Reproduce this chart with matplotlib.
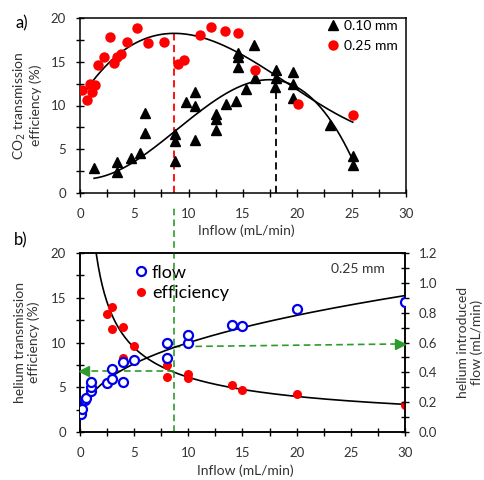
import numpy as np
import matplotlib
matplotlib.use('Agg')
import matplotlib.pyplot as plt
from matplotlib.ticker import MultipleLocator
from matplotlib.lines import Line2D

plt.rcParams['font.family'] = ['Lato', 'DejaVu Sans']

# ---------------- panel a) data ----------------
x_010 = [1.3, 3.4, 3.4, 4.7, 5.5, 6.0, 6.0, 8.7, 8.7, 8.7, 9.8, 10.6, 10.6, 10.6,
         12.5, 12.5, 12.5, 13.4, 14.4, 14.5, 14.5, 14.5, 15.3, 16.0, 16.1,
         18.0, 18.0, 17.9, 19.6, 19.6, 19.6, 23.0, 25.1, 25.1]
y_010 = [2.9, 3.5, 2.4, 4.0, 4.6, 6.9, 9.2, 6.8, 5.9, 3.7, 10.4, 11.5, 9.9, 6.1,
         9.0, 8.5, 7.2, 10.2, 10.5, 16.0, 15.6, 14.4, 11.9, 16.9, 13.2,
         14.1, 13.2, 12.1, 13.8, 12.5, 10.9, 7.8, 4.2, 3.2]

x_025 = [0.15, 0.6, 0.9, 1.08, 1.4, 1.7, 2.24, 2.76, 3.13, 3.43, 3.74, 4.29, 5.2,
         6.3, 7.76, 9.0, 9.6, 11.0, 12.05, 13.3, 14.5, 16.1, 20.1, 25.1]
y_025 = [11.8, 10.6, 12.5, 11.6, 12.4, 14.6, 15.5, 17.8, 14.9, 15.5, 15.9, 17.3, 18.9,
         17.1, 17.3, 14.8, 15.2, 18.1, 19.0, 18.5, 18.3, 14.1, 10.2, 8.9]

# trendline points
trend010_x = [1.3, 3.4, 6.0, 8.7, 11.65, 14.4, 16.1, 17.9, 19.6, 23.0, 25.1]
trend010_y = [1.4, 2.8, 4.8, 6.9, 9.3, 11.8, 13.0, 13.4, 12.5, 7.8, 4.0]
trend025_x = [0.4, 1.2, 2.76, 4.3, 6.3, 9.0, 11.0, 14.4, 18.0, 21.2, 25.1]
trend025_y = [11.4, 12.7, 15.2, 16.7, 17.8, 18.1, 17.8, 16.0, 13.5, 11.0, 8.0]

# ---------------- panel b) data ----------------
flow_x = [0.09, 0.15, 0.46, 0.55, 0.99, 0.99, 0.99, 2.46, 2.98, 2.98, 4.0, 4.0, 4.99,
          8.0, 8.0, 10.0, 10.0, 14.0, 15.0, 20.0, 30.0]
flow_y = [0.123, 0.154, 0.217, 0.23, 0.272, 0.30, 0.333, 0.328, 0.355, 0.422, 0.333,
          0.467, 0.485, 0.496, 0.60, 0.60, 0.648, 0.72, 0.708, 0.825, 0.869]
eff_x = [2.46, 2.98, 2.98, 4.0, 4.0, 4.99, 8.0, 8.0, 10.0, 10.0, 14.0, 15.0, 20.0, 30.0]
eff_y = [13.2, 14.0, 11.5, 11.7, 8.3, 9.6, 7.5, 6.2, 6.5, 6.0, 5.2, 4.7, 4.2, 3.0]

# trendline points
trend_eff_x = [1.45, 5.0, 8.6, 15.1, 21.2, 30.0]
trend_eff_y = [20.0, 9.5, 6.8, 4.9, 3.8, 3.0]
trend_flow_x = [1.2, 4.9, 8.6, 13.5, 20.0, 30.0]
trend_flow_y = [0.27, 0.43, 0.56, 0.70, 0.79, 0.905]

x_opt = 8.65      # optimum inflow (dashed markers)
x_peak010 = 18.0
flow_left = 0.41
flow_right = [0.572, 0.59]

# ---------------- figure ----------------
fig = plt.figure(figsize=(4.85, 4.8), dpi=100)
axA = fig.add_axes([80/485, 1-193/480, 326/485, 175/480])
axB = fig.add_axes([80/485, 1-432/480, 325/485, 179/480])
axB2 = axB.twinx()

red = '#ff0000'
txt = '#333333'
tick_fs = 9.5
lab_fs = 10

def style(ax, xmaj, ymaj, yminor):
    ax.xaxis.set_major_locator(MultipleLocator(xmaj))
    ax.xaxis.set_minor_locator(MultipleLocator(xmaj/2))
    ax.yaxis.set_major_locator(MultipleLocator(ymaj))
    ax.yaxis.set_minor_locator(MultipleLocator(yminor))
    ax.tick_params(which='both', direction='inout', length=6, width=1.0,
                   labelsize=tick_fs, colors='black', labelcolor=txt)
    ax.tick_params(axis='y', which='both', pad=7)
    ax.tick_params(axis='x', which='both', pad=8)
    for s in ax.spines.values():
        s.set_linewidth(1.1)
        s.set_color('black')

# ----- panel a -----
axA.set_xlim(0, 30)
axA.set_ylim(0, 20)
style(axA, 5, 5, 2.5)
axA.tick_params(axis='x', which='both', top=False)
axA.tick_params(axis='y', which='both', right=False)

c1 = np.polyfit(trend010_x, trend010_y, 3)
xs1 = np.linspace(trend010_x[0], trend010_x[-1], 200)
axA.plot(xs1, np.polyval(c1, xs1), color='black', lw=1.2, zorder=2)
c2 = np.polyfit(trend025_x, trend025_y, 3)
xs2 = np.linspace(trend025_x[0], trend025_x[-1], 200)
axA.plot(xs2, np.polyval(c2, xs2), color='black', lw=1.2, zorder=2)

axA.plot(x_010, y_010, '^', color='black', ms=6.5, ls='none', zorder=3, label='0.10 mm')
axA.plot(x_025, y_025, 'o', color=red, ms=7.5, mec='none', ls='none', zorder=3, label='0.25 mm')

axA.plot([x_opt, x_opt], [0, np.polyval(c2, x_opt)], color=red, ls=(0, (4, 2.5)), lw=1.3, zorder=1)
axA.plot([x_peak010, x_peak010], [0, 12.6], color='black', ls=(0, (4, 2.5)), lw=1.3, zorder=1)

axA.set_xlabel('Inflow (mL/min)', fontsize=lab_fs, color=txt)
axA.xaxis.set_label_coords(0.51, -0.18)
axA.set_ylabel('CO$_2$ transmission\nefficiency (%)', fontsize=lab_fs, color=txt,
               linespacing=1.15)
axA.yaxis.set_label_coords(-0.117, 0.5)
axA.legend(loc='upper right', frameon=False, fontsize=10, handletextpad=0.25,
           handlelength=1.0, borderaxespad=0.1, labelspacing=0.6,
           bbox_to_anchor=(0.995, 1.03))
fig.text(16/485, 1-23/480, 'a)', fontsize=12, va='center', ha='left', color='black')

# ----- panel b -----
axB.set_xlim(0, 30)
axB.set_ylim(0, 20)
axB2.set_ylim(0, 1.2)
style(axB, 5, 5, 2.5)
style(axB2, 5, 0.2, 0.1)
axB.tick_params(axis='y', which='both', right=False)
axB.tick_params(axis='x', which='both', top=False)

# efficiency power-law trend
pe = np.polyfit(np.log(trend_eff_x), np.log(trend_eff_y), 1)
xe0 = np.exp((np.log(20) - pe[1]) / pe[0])
xse = np.linspace(xe0, 30, 300)
axB.plot(xse, np.exp(np.polyval(pe, np.log(xse))), color='black', lw=1.2, zorder=2)
axB.plot(eff_x, eff_y, 'o', color=red, mec='none', ms=6.5, ls='none', zorder=3)

# flow power-law trend
pf = np.polyfit(np.log(trend_flow_x), np.log(trend_flow_y), 1)
xsf = np.linspace(flow_x[0], 30, 300)
axB2.plot(xsf, np.exp(np.polyval(pf, np.log(xsf))), color='black', lw=1.2, zorder=2)
axB2.plot(flow_x, flow_y, 'o', mfc='white', mec='#0000ee', mew=1.6, ms=6.5, ls='none', zorder=3)

green = '#2e9a2e'
# vertical green dashed across to panel a
axB2.plot([x_opt, x_opt], [0, 1.2 * (432-206)/179], color=green, ls=(0, (4, 2.5)),
          lw=1.2, clip_on=False, zorder=1)
axB2.plot([x_opt, 0.5], [flow_left, flow_left], color=green, ls=(0, (4, 2.5)), lw=1.2, zorder=1)
axB2.plot([0.4], [flow_left], marker='<', color=green, ms=7, clip_on=False, zorder=4)
axB2.plot([x_opt, 29.2], flow_right, color=green, ls=(0, (4, 2.5)), lw=1.2, zorder=1)
axB2.plot([29.5], [flow_right[1]], marker='>', color=green, ms=7, clip_on=False, zorder=4)

axB.set_xlabel('Inflow (mL/min)', fontsize=lab_fs, color=txt)
axB.xaxis.set_label_coords(0.51, -0.18)
axB.set_ylabel('helium transmission\nefficiency (%)', fontsize=lab_fs, color=txt,
               linespacing=1.15)
axB.yaxis.set_label_coords(-0.123, 0.5)
axB2.set_ylabel('helium introduced\nflow (mL/min)', fontsize=lab_fs, color=txt,
                linespacing=1.15)
axB2.yaxis.set_label_coords(1.16, 0.5)

axB.text(0.855, 0.91, '0.25 mm', transform=axB.transAxes, fontsize=10, ha='center',
         va='center', color=txt)

handles = [Line2D([], [], marker='o', mfc='white', mec='#0000ee', mew=1.6, ms=6.5, ls='none'),
           Line2D([], [], marker='o', color=red, mec='none', ms=6.5, ls='none')]
axB.legend(handles, ['flow', 'efficiency'], loc='upper left', frameon=False, fontsize=13,
           handletextpad=0.1, handlelength=1.0, labelspacing=0.25,
           bbox_to_anchor=(0.11, 1.025))
fig.text(14/485, 1-240/480, 'b)', fontsize=12, va='center', ha='left', color='black')

fig.savefig('out.png', dpi=100)
